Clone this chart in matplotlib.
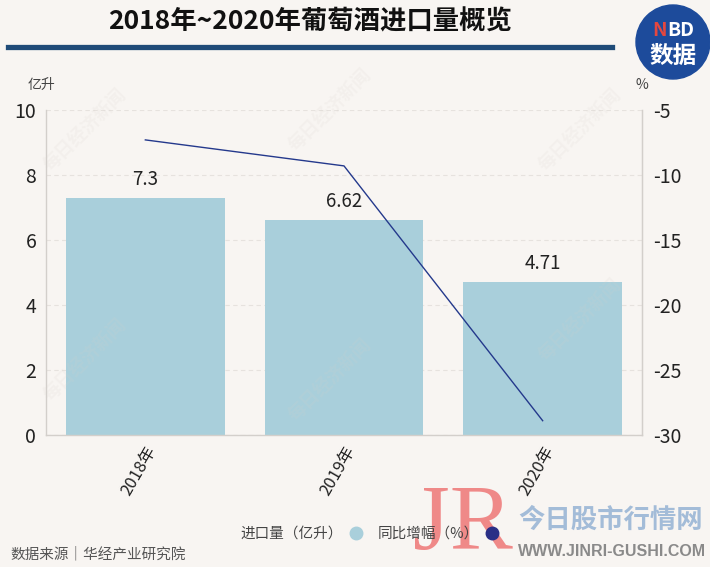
import matplotlib
matplotlib.use("Agg")
import matplotlib.pyplot as plt
from matplotlib.lines import Line2D
from matplotlib.patches import Ellipse

years = ['2018年', '2019年', '2020年']
volume = [7.3, 6.62, 4.71]          # 进口量（亿升）
growth = [-7.3, -9.3, -28.9]        # 同比增幅（%）
left_ticks = [0, 2, 4, 6, 8, 10]
right_ticks = [-30, -25, -20, -15, -10, -5]

plt.rcParams['font.family'] = ['Noto Sans CJK SC', 'DejaVu Sans']
plt.rcParams['axes.unicode_minus'] = False

W, H = 710, 567
bg = '#f8f5f2'
bar_color = '#a9cfdb'
line_color = '#24398c'
spine_color = '#d3cfcb'

fig = plt.figure(figsize=(W / 100, H / 100), dpi=100, facecolor=bg)

def fx(px):
    return px / W

def fy(py):
    return 1 - py / H

ax = fig.add_axes([fx(46), fy(435), fx(642) - fx(46), fy(110) - fy(435)])
ax.set_facecolor(bg)
xs = list(range(len(years)))
ax.bar(xs, volume, width=0.8, color=bar_color, zorder=2)
ax.set_xlim(-0.5, len(years) - 0.5)
ax.set_ylim(0, 10)
ax.set_yticks(left_ticks)
ax.set_xticks(xs)
ax.set_xticklabels(years, rotation=60, ha='right', va='top', rotation_mode='anchor',
                   fontsize=12, color='#222222')
ax.grid(axis='y', linestyle=(0, (4, 3)), color='#e6e2de', linewidth=0.8, zorder=0)
ax.tick_params(axis='y', length=0, pad=7, labelsize=14, labelcolor='#222222')
ax.tick_params(axis='x', length=0, pad=6)
ax.spines['top'].set_visible(False)
for s in ['left', 'bottom', 'right']:
    ax.spines[s].set_color(spine_color)
    ax.spines[s].set_linewidth(1.0)

for xi, v in zip(xs, volume):
    ax.text(xi, v + 0.25, f'{v:g}', ha='center', va='bottom', fontsize=13.5, color='#222222', zorder=3)

ax2 = ax.twinx()
ax2.plot(xs, growth, color=line_color, linewidth=1.0, zorder=4)
ax2.set_ylim(-30, -5)
ax2.set_yticks(right_ticks)
ax2.tick_params(axis='y', length=0, pad=8, labelsize=14, labelcolor='#222222')
for s in ['top', 'left', 'bottom']:
    ax2.spines[s].set_visible(False)
ax2.spines['right'].set_color(spine_color)

# axis unit labels
fig.text(fx(41), fy(85), '亿升', ha='center', va='center', fontsize=10, color='#444444')
fig.text(fx(642), fy(85), '%', ha='center', va='center', fontsize=10, color='#444444')

# title and underline
fig.text(fx(310), fy(22), '2018年~2020年葡萄酒进口量概览', ha='center', va='center',
         fontsize=19, fontweight='bold', color='#111111')
fig.add_artist(Line2D([fx(8), fx(612)], [fy(47), fy(47)], color='#1f4b78', linewidth=3.8))

# NBD logo
fig.add_artist(Ellipse((fx(673), fy(42)), 74 / W, 74 / H, color='#1d4b9b'))
fig.text(fx(660), fy(31), 'N', ha='center', va='center', fontsize=14, fontweight='bold', color='#e4473f')
fig.text(fx(681), fy(31), 'BD', ha='center', va='center', fontsize=14, fontweight='bold', color='white')
fig.text(fx(673), fy(56), '数据', ha='center', va='center', fontsize=17, fontweight='bold', color='white')

# faint diagonal watermarks
for (px, py) in [(85, 130), (330, 110), (580, 130), (85, 360), (330, 380), (580, 320)]:
    fig.text(fx(px), fy(py), '每日经济新闻', rotation=45, ha='center', va='center', fontsize=13,
             fontweight='bold', color='#d8d2cc', alpha=0.15)

# site watermark
fig.text(fx(463), fy(527), 'JR', ha='center', va='center', fontsize=68, family='Liberation Serif',
         color='#ef7d7d', alpha=0.9)
fig.text(fx(611), fy(520), '今日股市行情网', ha='center', va='center', fontsize=19, fontweight='bold',
         color='#a3bcd8')
fig.text(fx(612), fy(552), 'WWW.JINRI-GUSHI.COM', ha='center', va='center', fontsize=11.5,
         fontweight='bold', color='#8a8a8a', family='Liberation Sans')

# legend
handles = [
    Line2D([], [], marker='o', linestyle='none', markersize=9, markerfacecolor=bar_color,
           markeredgecolor=bar_color, label='进口量（亿升）'),
    Line2D([], [], marker='o', linestyle='none', markersize=9, markerfacecolor='#2a2f86',
           markeredgecolor='#2a2f86', label='同比增幅（%）'),
]
fig.legend(handles=handles, loc='center', bbox_to_anchor=(fx(370), fy(534)), ncol=2,
           frameon=False, markerfirst=False, fontsize=10.5, handletextpad=0.4,
           handlelength=1.0, columnspacing=1.0, labelcolor='#444444')

# source
fig.text(fx(10), fy(554), '数据来源｜华经产业研究院', ha='left', va='center', fontsize=10.5, color='#555555')

fig.savefig('out.png', dpi=100, facecolor=bg)
